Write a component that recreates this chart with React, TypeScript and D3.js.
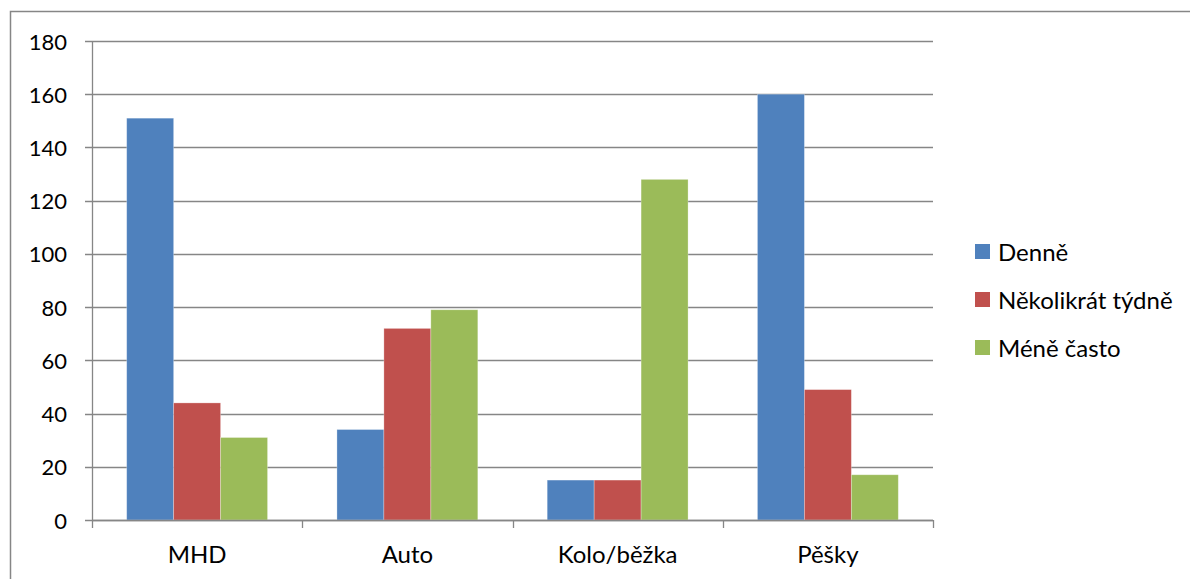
import React from "react";
import * as d3 from "d3";

const categories = ["MHD", "Auto", "Kolo/běžka", "Pěšky"];
const seriesNames = ["Denně", "Několikrát týdně", "Méně často"];
const denne = [151, 34, 15, 160];
const nekolikrat = [44, 72, 15, 49];
const meneCasto = [31, 79, 128, 17];
const seriesValues = [denne, nekolikrat, meneCasto];
const colors = ["#4F81BD", "#C0504D", "#9BBB59"];
const yTicks = [0, 20, 40, 60, 80, 100, 120, 140, 160, 180];

const W = 1190;
const H = 579;
const plotLeft = 92;
const plotRight = 933;
const plotTop = 41;
const plotBottom = 520;
const FONT = "Lato, 'Noto Sans', sans-serif";

export default function App() {
  const y = d3.scaleLinear().domain([0, 180]).range([plotBottom, plotTop]);
  const x = d3
    .scaleBand<string>()
    .domain(categories)
    .range([plotLeft, plotRight])
    .paddingInner(0.33)
    .paddingOuter(0.165);
  const xs = d3
    .scaleBand<string>()
    .domain(seriesNames)
    .range([0, x.bandwidth()])
    .padding(0);
  const step = (plotRight - plotLeft) / categories.length;

  return (
    <svg
      width={W}
      height={H}
      style={{ display: "block", position: "absolute", left: 0, top: 0, overflow: "hidden" }}
    >
      <rect x={0} y={0} width={W} height={H} fill="#fff" />
      <rect
        x={10.5}
        y={11.5}
        width={W + 20}
        height={H + 20}
        fill="none"
        stroke="#868686"
        strokeWidth={1.5}
      />
      {/* gridlines */}
      {yTicks.map((t) => (
        <line
          key={"g" + t}
          x1={plotLeft - 7}
          x2={plotRight}
          y1={Math.round(y(t)) + 0.5}
          y2={Math.round(y(t)) + 0.5}
          stroke="#868686"
          strokeWidth={1.3}
        />
      ))}
      {/* y axis */}
      <line
        x1={plotLeft + 0.5}
        x2={plotLeft + 0.5}
        y1={plotTop}
        y2={plotBottom + 8}
        stroke="#868686"
        strokeWidth={1.3}
      />
      {yTicks.map((t) => (
        <text
          key={"yl" + t}
          x={67}
          y={y(t)}
          textAnchor="end"
          dominantBaseline="central"
          fontFamily={FONT}
          fontSize={22}
          fill="#000"
        >
          {t}
        </text>
      ))}
      {/* x category ticks */}
      {categories.map((c, i) => (
        <line
          key={"xt" + c}
          x1={Math.round(plotLeft + (i + 1) * step) + 0.5}
          x2={Math.round(plotLeft + (i + 1) * step) + 0.5}
          y1={plotBottom}
          y2={plotBottom + 8}
          stroke="#868686"
          strokeWidth={1.3}
        />
      ))}
      {/* bars */}
      {categories.map((c, i) => (
        <g key={"bars" + c}>
          {seriesNames.map((s, j) => (
            <rect
              key={s}
              x={(x(c) ?? 0) + (xs(s) ?? 0)}
              y={y(seriesValues[j][i])}
              width={xs.bandwidth()}
              height={plotBottom - y(seriesValues[j][i])}
              fill={colors[j]}
              stroke="#ffffff"
              strokeOpacity={0.35}
              strokeWidth={0.8}
            />
          ))}
        </g>
      ))}
      {/* x axis line */}
      <line
        x1={plotLeft}
        x2={plotRight}
        y1={plotBottom + 0.5}
        y2={plotBottom + 0.5}
        stroke="#868686"
        strokeWidth={1.3}
      />
      {categories.map((c) => (
        <text
          key={"xl" + c}
          x={(x(c) ?? 0) + x.bandwidth() / 2}
          y={563}
          textAnchor="middle"
          fontFamily={FONT}
          fontSize={24}
          fill="#000"
        >
          {c}
        </text>
      ))}
      {/* legend */}
      {seriesNames.map((s, j) => (
        <g key={"lg" + s} transform={`translate(975, ${251 + j * 48})`}>
          <rect x={0} y={-7} width={15} height={15} fill={colors[j]} />
          <text
            x={23}
            y={0}
            dominantBaseline="central"
            fontFamily={FONT}
            fontSize={24}
            fill="#000"
          >
            {s}
          </text>
        </g>
      ))}
    </svg>
  );
}
